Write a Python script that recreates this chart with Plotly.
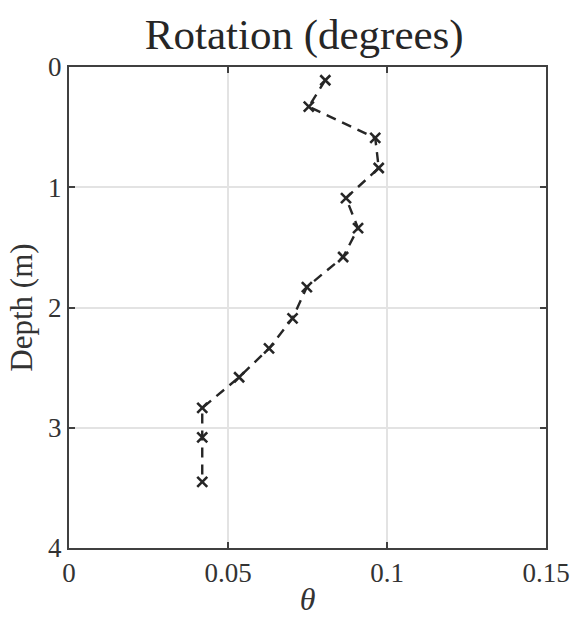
import plotly.graph_objects as go

theta = [0.0806, 0.0754, 0.0963, 0.0974, 0.0871, 0.0909, 0.0862, 0.0748, 0.0703, 0.0629, 0.0535, 0.0419, 0.0419, 0.0419]
depth = [0.11, 0.33, 0.59, 0.84, 1.09, 1.34, 1.58, 1.83, 2.09, 2.34, 2.58, 2.835, 3.08, 3.45]
xticks = [0, 0.05, 0.1, 0.15]
xticklabels = ["0", "0.05", "0.1", "0.15"]
yticks = [0, 1, 2, 3, 4]

FONT = "Liberation Serif"
AX = "#404040"
TXT = "#333333"

fig = go.Figure()
fig.add_trace(go.Scatter(
    x=theta, y=depth, mode="lines+markers",
    line=dict(color="#262626", width=2.4, dash="10px,7px"),
    marker=dict(symbol="x-thin", size=10, line=dict(color="#262626", width=2.6), color="#262626"),
    showlegend=False,
))

axis_common = dict(
    showline=True, linecolor=AX, linewidth=2, mirror="ticks",
    ticks="inside", ticklen=6, tickwidth=2, tickcolor=AX,
    showgrid=True, gridcolor="#e3e3e3", gridwidth=1.5,
    zeroline=False, automargin=False,
    tickfont=dict(family=FONT, size=27, color=TXT),
)

fig.update_layout(
    width=573, height=617,
    margin=dict(l=69, r=27, t=67, b=69),
    paper_bgcolor="white", plot_bgcolor="white",
    title=dict(text="Rotation (degrees)", x=0.531, xanchor="center", y=0.945, yanchor="middle",
               font=dict(family=FONT, size=43, color="#262626")),
    xaxis=dict(range=[0, 0.15], tickvals=xticks, ticktext=xticklabels,
               title=dict(text="<i>θ</i>", font=dict(family=FONT, size=32, color=TXT), standoff=8),
               **axis_common),
    yaxis=dict(range=[4, 0], tickvals=yticks,
               title=dict(text="Depth (m)", font=dict(family=FONT, size=31, color=TXT), standoff=6),
               **axis_common),
)

fig.write_html("out.html")
